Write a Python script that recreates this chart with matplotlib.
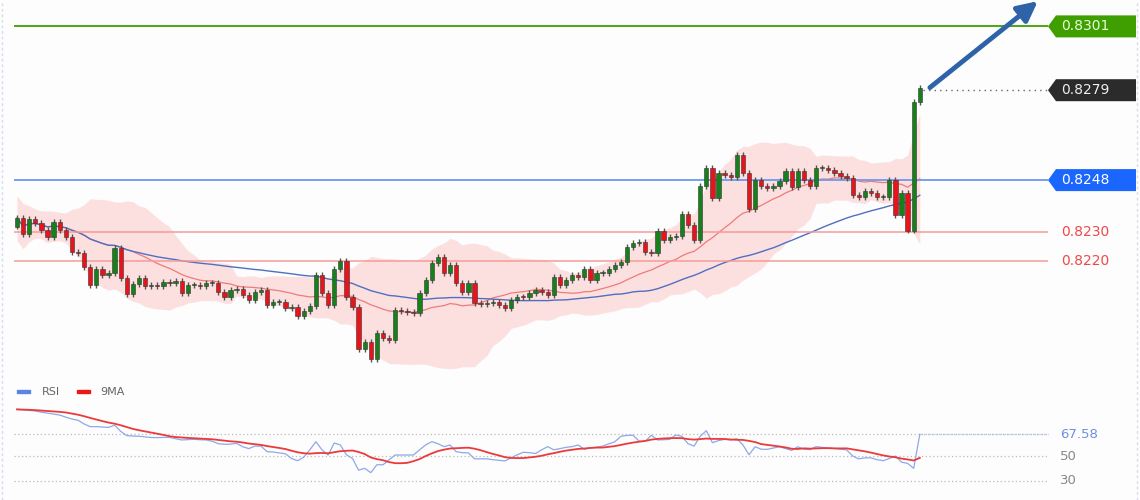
import numpy as np
import pandas as pd
import matplotlib
matplotlib.use("Agg")
import matplotlib.pyplot as plt
from matplotlib.patches import Polygon

closes = [0.82349,0.82294,0.82346,0.82332,0.82308,0.82284,0.82336,0.82308,0.82284,0.82232,
0.82229,0.82180,0.82118,0.82173,0.82153,0.82160,0.82246,0.82142,0.82087,0.82122,
0.82142,0.82115,0.82118,0.82115,0.82129,0.82125,0.82132,0.82091,0.82118,0.82118,
0.82115,0.82125,0.82125,0.82094,0.82077,0.82101,0.82104,0.82084,0.82067,0.82094,
0.82101,0.82049,0.82060,0.82060,0.82039,0.82042,0.82011,0.82029,0.82046,0.82153,
0.82091,0.82049,0.82173,0.82201,0.82077,0.82042,0.81898,0.81922,0.81863,0.81953,
0.81936,0.81929,0.82032,0.82029,0.82025,0.82022,0.82091,0.82136,0.82194,0.82215,
0.82160,0.82187,0.82125,0.82094,0.82125,0.82056,0.82053,0.82056,0.82060,0.82049,
0.82039,0.82067,0.82077,0.82076,0.82091,0.82101,0.82094,0.82084,0.82146,0.82118,
0.82136,0.82153,0.82146,0.82173,0.82136,0.82160,0.82160,0.82173,0.82187,0.82197,
0.82249,0.82263,0.82267,0.82232,0.82229,0.82306,0.82273,0.82284,0.82287,0.82363,
0.82325,0.82273,0.82460,0.82522,0.82418,0.82504,0.82497,0.82491,0.82567,0.82504,
0.82380,0.82480,0.82460,0.82453,0.82460,0.82477,0.82511,0.82456,0.82511,0.82480,
0.82460,0.82522,0.82522,0.82515,0.82504,0.82494,0.82487,0.82429,0.82422,0.82442,
0.82436,0.82422,0.82422,0.82480,0.82360,0.82436,0.82306,0.82749,0.82797]
first_open = 0.82320
wick_up = 0.00010
wick_dn = 0.00010

rsi_vals = [87.8,87.5,87.0,86.5,85.5,84.8,84.0,83.2,81.5,80.0,
79.0,76.0,73.8,73.8,73.5,73.2,75.0,70.0,66.5,66.2,
66.0,65.5,65.0,64.9,65.1,65.1,64.0,63.0,63.3,63.5,
63.2,63.0,62.0,60.0,59.5,59.6,60.3,57.5,56.0,58.0,
58.0,53.5,53.2,52.5,51.8,48.0,46.2,49.0,55.0,61.6,
55.0,50.8,60.5,59.0,51.0,48.0,38.5,40.0,36.5,42.9,
42.9,47.0,50.8,50.8,50.8,50.8,55.0,59.0,61.6,60.0,
57.6,58.9,53.5,52.7,52.5,47.7,47.7,47.7,47.0,46.5,
46.0,48.5,51.0,53.0,52.7,52.0,55.0,57.6,55.0,56.0,
57.0,57.6,58.9,55.5,56.5,57.2,58.0,59.8,61.5,66.0,
66.7,66.8,62.0,62.0,66.8,63.0,63.2,63.5,67.0,66.0,
60.0,58.0,66.0,70.5,60.8,62.5,63.5,63.0,64.0,59.0,
51.0,57.5,55.5,55.4,56.5,57.5,56.0,54.5,57.5,55.5,
55.2,57.6,57.0,56.5,56.0,55.5,55.0,50.0,47.7,48.5,
48.5,47.0,46.2,48.0,50.0,45.0,44.0,40.0,67.58]

levels_green = 0.8301
level_blue = 0.8248
levels_red = [0.8230, 0.8220]
last_price = 0.8279
rsi_ticks = [67.58, 50, 30]

# pixel mapping helpers (layout only)
W, H = 1140, 500
px_per_unit = 6.1
x0px = 17.0
xl = (-x0px / px_per_unit, (W - x0px) / px_per_unit)
def xd(px):
    return (px - x0px) / px_per_unit

fig = plt.figure(figsize=(11.4, 5.0), dpi=100)
fig.patch.set_facecolor("#fcfdfc")
ax = fig.add_axes([0, 0.22, 1, 0.78])
ax.set_facecolor("#fcfdfc")
ymax = 0.83101
ymin = ymax - 390 * 0.00003448
ax.set_xlim(*xl)
ax.set_ylim(ymin, ymax)
ax.axis("off")

c = np.array(closes)
o = np.concatenate([[first_open], c[:-1]])
n = len(c)
idx = np.arange(n)
s = pd.Series(c)
ma20 = s.rolling(20, min_periods=1).mean()
sd20 = s.rolling(20, min_periods=2).std().bfill()
ma50 = s.rolling(50, min_periods=1).mean()
up = ma20 + 2 * sd20
dn = ma20 - 2 * sd20
ax.fill_between(idx, dn, up, color="#fcd9d9", alpha=0.8, lw=0, zorder=1)
ax.plot(idx, ma20, color="#f07a7a", lw=0.9, zorder=2)
ax.plot(idx, ma50, color="#4f6fc0", lw=1.0, zorder=2)

e = xd(14)
r = xd(1048)
ax.hlines(levels_green, e, r, color="#3f9e00", lw=1.3, zorder=3)
ax.hlines(level_blue, e, r, color="#6a9af0", lw=1.3, zorder=3)
for lv in levels_red:
    ax.hlines(lv, e, r, color="#f59a9a", lw=1.1, zorder=3)
ax.hlines(last_price, n - 0.5, r, color="#666666", lw=1, linestyles=(0, (1, 3)), zorder=3)

hi = np.maximum(o, c) + wick_up
lo = np.minimum(o, c) - wick_dn
for i in range(n):
    col = "#16801a" if c[i] >= o[i] else "#e8141c"
    ax.vlines(i, lo[i], hi[i], color="#555555", lw=1, zorder=4)
    b0, b1 = min(o[i], c[i]), max(o[i], c[i])
    if b1 - b0 < 0.00003:
        b1 = b0 + 0.00003
    ax.add_patch(plt.Rectangle((i - 0.35, b0), 0.7, b1 - b0, facecolor=col,
                               edgecolor="#333333", lw=0.4, zorder=5))

# arrow
ax.annotate("", xy=(xd(1040), ymax + 0.00002), xytext=(n + 0.3, last_price + 0.00003),
            arrowprops=dict(arrowstyle="-|>,head_length=1.2,head_width=0.6",
                            color="#2f63a8", lw=3.5), zorder=6, annotation_clip=False)

def tag(y, text, fc, tc):
    ppu = 0.00003448
    h = 11 * ppu
    xa, xb, xc = xd(1048), xd(1056), xd(1136)
    poly = Polygon([[xa, y], [xb, y + h], [xc, y + h], [xc, y - h], [xb, y - h]],
                   closed=True, facecolor=fc, edgecolor="none", zorder=7, clip_on=False)
    ax.add_patch(poly)
    ax.text(xd(1061), y, text, color=tc, fontsize=10, va="center", ha="left", zorder=8)

tag(levels_green + 0.0025, "", "#3f9e00", "white")
tag(levels_green, "0.8301", "#3f9e00", "#e8ffd8")
tag(last_price, "0.8279", "#2b2b2b", "#eeeeee")
tag(level_blue, "0.8248", "#1a66ff", "white")
for lv in levels_red:
    ax.text(xd(1061), lv, f"{lv:.4f}", color="#f04848", fontsize=10, va="center", ha="left")

# RSI panel
rsi = pd.Series(rsi_vals)
rma = rsi.rolling(9, min_periods=1).mean()

ax2 = fig.add_axes([0, 0, 1, 0.21])
ax2.set_facecolor("#fcfdfc")
ax2.set_xlim(*xl)
ppr = 1.233
ax2.set_ylim(50 - 44 / ppr, 50 + 61 / ppr)
ax2.axis("off")
for t in rsi_ticks:
    ax2.hlines(t, e, r, color="#bbbbbb", lw=0.9, linestyles=(0, (1, 2)))
    ax2.text(xd(1060), t, f"{t:g}", color="#6f8fe0" if t == rsi_ticks[0] else "#888888",
             fontsize=9.5, va="center", ha="left")
ax2.hlines(rsi_ticks[0], n - 1, r, color="#9ab4f0", lw=0.9, linestyles=(0, (1, 2)))
ax2.plot(idx[:len(rsi)], rsi, color="#8fa8e8", lw=0.9)
ax2.plot(idx[:len(rsi)], rma, color="#ec3a3a", lw=1.3)
ly = 50 + 64 / ppr
ax2.add_patch(plt.Rectangle((xd(17), ly - 1.2), 2.2, 2.6, color="#5a85e0", clip_on=False))
ax2.text(xd(42), ly, "RSI", fontsize=8, color="#666666", va="center")
ax2.add_patch(plt.Rectangle((xd(77), ly - 1.2), 2.2, 2.6, color="#e81818", clip_on=False))
ax2.text(xd(100), ly, "9MA", fontsize=8, color="#666666", va="center")

fig.add_artist(plt.Line2D([0.002, 0.002], [0, 1], color="#d8dcf0", lw=1, ls=(0, (2, 2))))
fig.add_artist(plt.Line2D([0.9975, 0.9975], [0, 1], color="#d8dcf0", lw=1, ls=(0, (2, 2))))
fig.savefig("out.png", dpi=100, facecolor=fig.get_facecolor())
